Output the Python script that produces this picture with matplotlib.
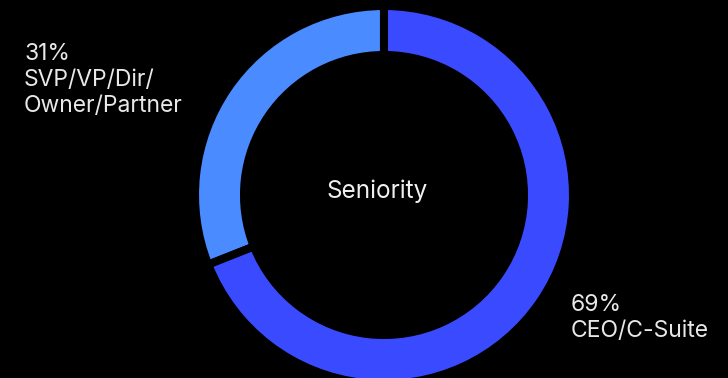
import matplotlib.pyplot as plt

# seniority split
labels = ["SVP/VP/Dir/\nOwner/Partner", "CEO/C-Suite"]
shares = [31, 69]
colors = ["#4A8BFF", "#3A4BFF"]

plt.rcParams['font.family'] = ['Inter', 'DejaVu Sans']

fig = plt.figure(figsize=(7.28, 3.78), dpi=100, facecolor="black")
ax = fig.add_axes([0, 0, 1, 1])
ax.set_facecolor("black")

# donut, black edges give the gaps between slices
ax.pie(shares, colors=colors, startangle=90, counterclock=True,
       center=(384, 183), radius=189,
       wedgeprops=dict(width=49, edgecolor="black", linewidth=5.8))
ax.set_xlim(0, 728)
ax.set_ylim(0, 378)
ax.set_aspect('equal')
ax.axis('off')

ax.text(377.5, 180, "Seniority", color="#F0F0F0", fontsize=17.5,
        ha="center", va="baseline")

# multi-line text: baseline anchors the last line
ax.text(24, 266, f"{shares[0]}%\n{labels[0]}", color="#E8E8E8", fontsize=16.5,
        ha="left", va="baseline", linespacing=1.23)
ax.text(571, 41, f"{shares[1]}%\n{labels[1]}", color="#E8E8E8", fontsize=16.5,
        ha="left", va="baseline", linespacing=1.23)

fig.savefig("out.png", dpi=100, facecolor="black")
